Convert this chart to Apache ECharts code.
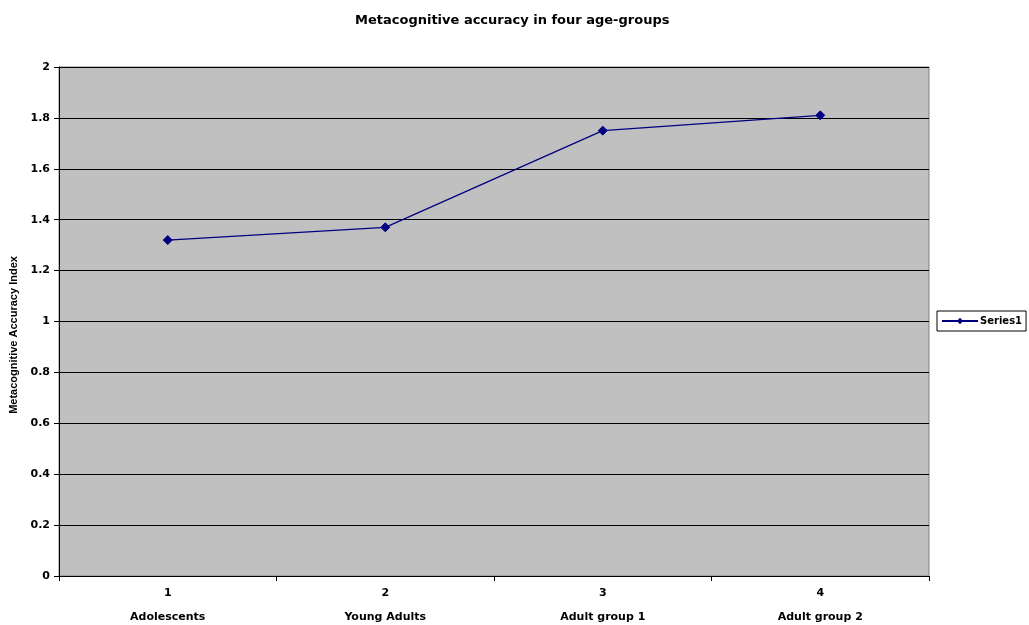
<!DOCTYPE html>
<html>
<head>
<meta charset="utf-8">
<script src="https://cdn.jsdelivr.net/npm/echarts@6/dist/echarts.min.js"></script>
<style>
  html, body { margin: 0; padding: 0; background: #ffffff; }
  #chart { width: 1029px; height: 625px; }
</style>
</head>
<body>
<div id="chart"></div>
<script>
// Age groups and their metacognitive accuracy index
const groupNumbers = ['1', '2', '3', '4'];
const groupNames = ['Adolescents', 'Young Adults', 'Adult group 1', 'Adult group 2'];
const accuracy = [1.32, 1.37, 1.75, 1.81];
const seriesName = 'Series1';

const wideFont = '"DejaVu Sans", "Liberation Sans", Arial, sans-serif';
const narrowFont = '"Liberation Sans", Arial, sans-serif';
const categories = groupNumbers.map((n, i) => n + '\n' + groupNames[i]);

const chart = echarts.init(document.getElementById('chart'));
chart.setOption({
  animation: false,
  backgroundColor: '#ffffff',
  title: {
    text: 'Metacognitive accuracy in four age-groups',
    left: 350,
    top: 9,
    textStyle: { fontFamily: wideFont, fontSize: 13, fontWeight: 'bold', color: '#000' }
  },
  legend: {
    data: [seriesName],
    left: 937,
    top: 311,
    orient: 'vertical',
    backgroundColor: '#ffffff',
    borderColor: '#000000',
    borderWidth: 1,
    borderRadius: 0,
    padding: [5, 4, 5, 4],
    itemWidth: 36,
    itemHeight: 8,
    itemGap: 0,
    textStyle: { fontFamily: wideFont, fontSize: 10, fontWeight: 'bold', color: '#000', padding: [0, 0, 0, -3] }
  },
  grid: {
    left: 59,
    top: 67,
    right: 100,
    bottom: 49,
    outerBoundsMode: 'none',
    containLabel: false,
    show: true,
    backgroundColor: '#c0c0c0',
    borderColor: '#808080',
    borderWidth: 1
  },
  xAxis: {
    type: 'category',
    data: categories,
    boundaryGap: true,
    axisLine: { lineStyle: { color: '#000', width: 1 } },
    axisTick: { show: true, alignWithLabel: false, length: 5, inside: false, lineStyle: { color: '#000' } },
    axisLabel: {
      fontFamily: wideFont,
      fontSize: 11,
      fontWeight: 'bold',
      color: '#000',
      margin: 5,
      lineHeight: 24
    },
    splitLine: { show: false }
  },
  yAxis: {
    type: 'value',
    min: 0,
    max: 2,
    interval: 0.2,
    name: 'Metacognitive Accuracy Index',
    nameLocation: 'middle',
    nameGap: 35,
    nameTextStyle: {
      fontFamily: narrowFont, fontSize: 11, fontWeight: 'bold', color: '#000',
      padding: [0, 27, 0, 0]
    },
    axisLine: { show: true, lineStyle: { color: '#000', width: 1 } },
    axisTick: { show: true, length: 5, lineStyle: { color: '#000' } },
    axisLabel: {
      fontFamily: wideFont,
      fontSize: 11,
      fontWeight: 'bold',
      color: '#000',
      margin: 9,
      formatter: v => String(Math.round(v * 10) / 10)
    },
    splitLine: { show: true, lineStyle: { color: '#000', width: 1 } }
  },
  series: [{
    name: seriesName,
    type: 'line',
    data: accuracy,
    symbol: 'diamond',
    symbolSize: 9,
    lineStyle: { color: '#000080', width: 1.2 },
    itemStyle: { color: '#000080', borderColor: '#000080' },
    emphasis: { disabled: true }
  }]
});
</script>
</body>
</html>
